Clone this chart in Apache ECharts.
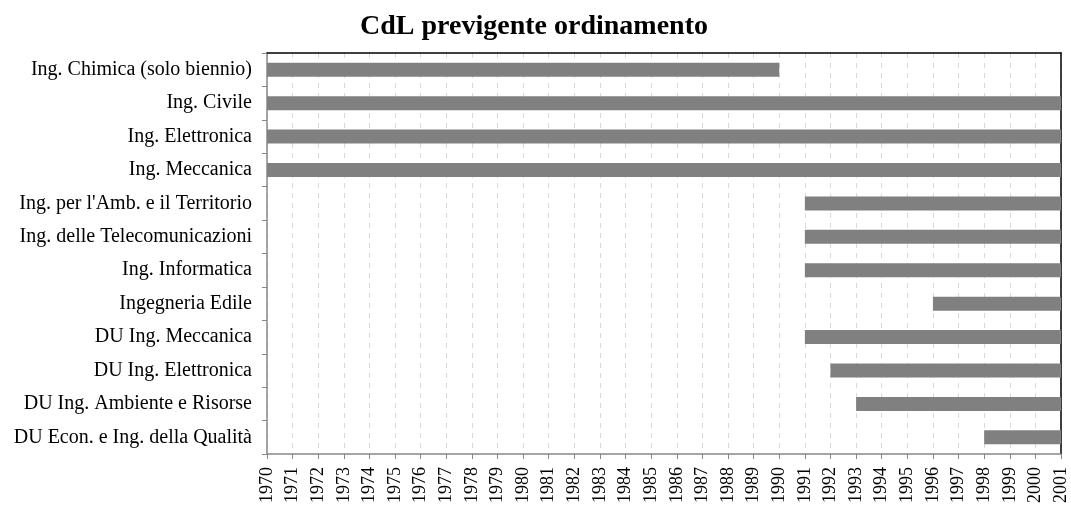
<!DOCTYPE html>
<html>
<head>
<meta charset="utf-8">
<script src="https://cdn.jsdelivr.net/npm/echarts@6/dist/echarts.min.js"></script>
<style>
  html, body { margin: 0; padding: 0; background: #fff; }
  #chart { width: 1071px; height: 509px; }
</style>
</head>
<body>
<div id="chart"></div>
<script>
// corsi di laurea, anno di attivazione e ultimo anno mostrato
var corsi = [
  'Ing. Chimica (solo biennio)',
  'Ing. Civile',
  'Ing. Elettronica',
  'Ing. Meccanica',
  "Ing. per l'Amb. e il Territorio",
  'Ing. delle Telecomunicazioni',
  'Ing. Informatica',
  'Ingegneria Edile',
  'DU Ing. Meccanica',
  'DU Ing. Elettronica',
  'DU Ing. Ambiente e Risorse',
  'DU Econ. e Ing. della Qualità'
];
var inizio = [1970, 1970, 1970, 1970, 1991, 1991, 1991, 1996, 1991, 1992, 1993, 1998];
var fine   = [1990, 2001, 2001, 2001, 2001, 2001, 2001, 2001, 2001, 2001, 2001, 2001];

var annoMin = 1970;
var annoMax = 2001;

var durata = inizio.map(function (v, i) { return fine[i] - v; });

var serif = '"Liberation Serif", "DejaVu Serif", serif';

var chart = echarts.init(document.getElementById('chart'));

var option = {
  animation: false,
  title: {
    text: 'CdL previgente ordinamento',
    left: 529,
    textAlign: 'center',
    top: 8,
    textStyle: { fontFamily: serif, fontWeight: 'bold', fontSize: 28, color: '#000' }
  },
  grid: {
    left: 267, right: 10, top: 53, bottom: 55
  },
  xAxis: [
    {
      type: 'value',
      min: annoMin,
      max: annoMax,
      interval: 1,
      axisLine: { show: true, lineStyle: { color: '#888', width: 1.5 } },
      axisTick: { show: true, length: 5, lineStyle: { color: '#888' } },
      axisLabel: {
        rotate: 90,
        fontFamily: serif,
        fontSize: 18,
        color: '#000',
        margin: 13,
        showMinLabel: true,
        showMaxLabel: true,
        formatter: function (v) { return String(v); }
      },
      splitLine: { show: true, lineStyle: { color: '#d9d9d9', type: [5, 5] } }
    },
    {
      // bordo superiore
      type: 'value',
      position: 'top',
      min: annoMin,
      max: annoMax,
      interval: 1,
      axisLine: { show: true, onZero: false, lineStyle: { color: '#000', width: 1.5 } },
      axisTick: { show: false },
      axisLabel: { show: false },
      splitLine: { show: false }
    }
  ],
  yAxis: [
    {
      type: 'category',
      data: corsi,
      inverse: true,
      axisLine: { show: true, lineStyle: { color: '#888', width: 1.5 } },
      axisTick: { show: true, length: 5, lineStyle: { color: '#888' } },
      axisLabel: { fontFamily: serif, fontSize: 20, color: '#000', margin: 15 },
      splitLine: { show: false }
    },
    {
      // bordo destro
      type: 'category',
      data: corsi,
      inverse: true,
      position: 'right',
      axisLine: { show: true, onZero: false, lineStyle: { color: '#000', width: 1.5 } },
      axisTick: { show: false },
      axisLabel: { show: false },
      splitLine: { show: false }
    }
  ],
  series: [
    {
      type: 'bar',
      stack: 'anni',
      silent: true,
      itemStyle: { color: 'rgba(0,0,0,0)' },
      data: inizio
    },
    {
      type: 'bar',
      stack: 'anni',
      barWidth: 14,
      itemStyle: { color: '#808080' },
      data: durata
    }
  ]
};

chart.setOption(option);
</script>
</body>
</html>
